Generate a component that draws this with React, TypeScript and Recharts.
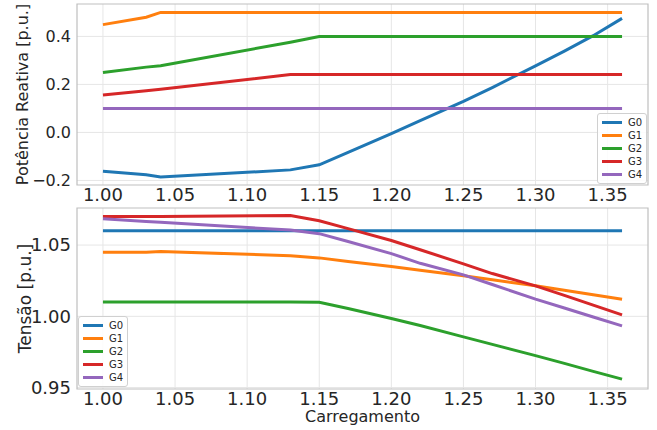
import { LineChart, Line, XAxis, YAxis, CartesianGrid, ReferenceArea, Legend, Label } from "recharts";

// ── Data ──────────────────────────────────────────────────────────────

const carregamento = [1.0, 1.03, 1.04, 1.13, 1.15, 1.17, 1.2, 1.22, 1.25, 1.27, 1.3, 1.32, 1.34, 1.36];

// Potência reativa [p.u.]
const qG0 = [-0.162, -0.176, -0.186, -0.156, -0.135, -0.083, -0.005, 0.049, 0.129, 0.187, 0.277, 0.339, 0.403, 0.475];
const qG1 = [0.449, 0.48, 0.5, 0.5, 0.5, 0.5, 0.5, 0.5, 0.5, 0.5, 0.5, 0.5, 0.5, 0.5];
const qG2 = [0.25, 0.272, 0.278, 0.376, 0.4, 0.4, 0.4, 0.4, 0.4, 0.4, 0.4, 0.4, 0.4, 0.4];
const qG3 = [0.156, 0.174, 0.18, 0.241, 0.241, 0.241, 0.241, 0.241, 0.241, 0.241, 0.241, 0.241, 0.241, 0.241];
const qG4 = [0.1, 0.1, 0.1, 0.1, 0.1, 0.1, 0.1, 0.1, 0.1, 0.1, 0.1, 0.1, 0.1, 0.1];

// Tensão [p.u.]
const vG0 = [1.06, 1.06, 1.06, 1.06, 1.06, 1.06, 1.06, 1.06, 1.06, 1.06, 1.06, 1.06, 1.06, 1.06];
const vG1 = [1.045, 1.045, 1.0455, 1.0425, 1.041, 1.0385, 1.0349, 1.0323, 1.0284, 1.0256, 1.0214, 1.0183, 1.0152, 1.012];
const vG2 = [1.01, 1.01, 1.01, 1.01, 1.0098, 1.0055, 0.9985, 0.9935, 0.9856, 0.9803, 0.9724, 0.967, 0.9614, 0.9559];
const vG3 = [1.07, 1.07, 1.07, 1.0707, 1.067, 1.0615, 1.0532, 1.0467, 1.0368, 1.03, 1.0214, 1.0147, 1.0078, 1.001];
const vG4 = [1.0684, 1.0666, 1.066, 1.0605, 1.058, 1.0525, 1.044, 1.0372, 1.0291, 1.0223, 1.0121, 1.0058, 0.9995, 0.9933];

const series = ["G0", "G1", "G2", "G3", "G4"];
const colors = ["#1f77b4", "#ff7f0e", "#2ca02c", "#d62728", "#9467bd"];

const xTicks = [1.0, 1.05, 1.1, 1.15, 1.2, 1.25, 1.3, 1.35];
const qTicks = [-0.2, 0.0, 0.2, 0.4];
const vTicks = [0.95, 1.0, 1.05];

const xDomain: [number, number] = [0.982, 1.378];
const qDomain: [number, number] = [-0.219, 0.535];
const vDomain: [number, number] = [0.949, 1.076];

const qRows = carregamento.map((x, i) => ({
  x, G0: qG0[i], G1: qG1[i], G2: qG2[i], G3: qG3[i], G4: qG4[i],
}));
const vRows = carregamento.map((x, i) => ({
  x, G0: vG0[i], G1: vG1[i], G2: vG2[i], G3: vG3[i], G4: vG4[i],
}));

// ── Helpers ───────────────────────────────────────────────────────────

const FONT = "'DejaVu Sans', sans-serif";
const GRID = "#e6e6e6";
const FRAME = "#bfbfbf";

const fmtY = (digits: number) => (v: number) => {
  const s = Math.abs(v).toFixed(digits);
  return v < 0 ? "\u2212" + s : s;
};

function MiniLegend() {
  return (
    <div style={{
      background: "rgba(255,255,255,0.85)",
      border: "1px solid #d0d0d0",
      borderRadius: 3,
      padding: "2px 4px 2px 4px",
      fontFamily: FONT,
      fontSize: 10,
      color: "#262626",
    }}>
      {series.map((s, i) => (
        <div key={s} style={{ display: "flex", alignItems: "center", height: 13 }}>
          <span style={{ display: "inline-block", width: 20, height: 3, background: colors[i], marginRight: 6 }} />
          {s}
        </div>
      ))}
    </div>
  );
}

function yTitle(text: string, size: number, x: number) {
  return (props: any) => {
    const vb = props.viewBox;
    const cy = vb.y + vb.height / 2;
    return (
      <text x={x} y={cy} transform={`rotate(-90, ${x}, ${cy})`} textAnchor="middle"
        style={{ fontFamily: FONT, fontSize: size, fill: "#262626" }}>
        {text}
      </text>
    );
  };
}

function xTitle(text: string, size: number, y: number) {
  return (props: any) => {
    const vb = props.viewBox;
    const cx = vb.x + vb.width / 2;
    return (
      <text x={cx} y={y} textAnchor="middle" style={{ fontFamily: FONT, fontSize: size, fill: "#262626" }}>
        {text}
      </text>
    );
  };
}

// ── Main ──────────────────────────────────────────────────────────────

export default function App() {
  return (
    <div style={{ position: "absolute", left: 0, top: 0, width: 657, height: 430, background: "#fff" }}>
      {/* ── Potência reativa ─────────────────────────────────── */}
      <div style={{ position: "absolute", left: 0, top: 0 }}>
        <LineChart width={657} height={210} data={qRows} margin={{ top: 4, right: 9, bottom: 0, left: 0 }}>
          <CartesianGrid stroke={GRID} strokeWidth={1} horizontalValues={qTicks} verticalValues={xTicks} />
          <XAxis dataKey="x" type="number" domain={xDomain} ticks={xTicks} allowDataOverflow
            tickFormatter={(v: number) => v.toFixed(2)} height={25} axisLine={false} tickLine={false}
            tickSize={2} tickMargin={1} tick={{ fontSize: 18, fill: "#262626", fontFamily: FONT }} />
          <YAxis type="number" domain={qDomain} ticks={qTicks} allowDataOverflow width={77}
            tickFormatter={fmtY(1)} axisLine={false} tickLine={false} tickSize={4} tickMargin={2}
            tick={{ fontSize: 16, fill: "#262626", fontFamily: FONT }}>
            <Label content={yTitle("Potência Reativa [p.u.]", 16, 28)} />
          </YAxis>
          <ReferenceArea x1={xDomain[0]} x2={xDomain[1]} y1={qDomain[0]} y2={qDomain[1]}
            fill="none" stroke={FRAME} strokeWidth={1.2} />
          {series.map((s, i) => (
            <Line key={s} dataKey={s} type="linear" stroke={colors[i]} strokeWidth={3}
              dot={false} activeDot={false} isAnimationActive={false} />
          ))}
          <Legend layout="vertical" align="center" verticalAlign="middle" content={() => <MiniLegend />}
            wrapperStyle={{ position: "absolute", left: 597, top: 113, width: "auto" }} />
        </LineChart>
      </div>

      {/* ── Tensão ──────────────────────────────────────────── */}
      <div style={{ position: "absolute", left: 0, top: 200 }}>
        <LineChart width={657} height={230} data={vRows} margin={{ top: 8, right: 9, bottom: 0, left: 0 }}>
          <CartesianGrid stroke={GRID} strokeWidth={1} horizontalValues={vTicks} verticalValues={xTicks} />
          <XAxis dataKey="x" type="number" domain={xDomain} ticks={xTicks} allowDataOverflow
            tickFormatter={(v: number) => v.toFixed(2)} height={41} axisLine={false} tickLine={false}
            tickSize={2} tickMargin={1} tick={{ fontSize: 18, fill: "#262626", fontFamily: FONT }}>
            <Label content={xTitle("Carregamento", 16, 222)} />
          </XAxis>
          <YAxis type="number" domain={vDomain} ticks={vTicks} allowDataOverflow width={77}
            tickFormatter={fmtY(2)} axisLine={false} tickLine={false} tickSize={4} tickMargin={2}
            tick={{ fontSize: 18, fill: "#262626", fontFamily: FONT }}>
            <Label content={yTitle("Tensão [p.u.]", 17, 31)} />
          </YAxis>
          <ReferenceArea x1={xDomain[0]} x2={xDomain[1]} y1={vDomain[0]} y2={vDomain[1]}
            fill="none" stroke={FRAME} strokeWidth={1.2} />
          {series.map((s, i) => (
            <Line key={s} dataKey={s} type="linear" stroke={colors[i]} strokeWidth={3}
              dot={false} activeDot={false} isAnimationActive={false} />
          ))}
          <Legend layout="vertical" align="center" verticalAlign="middle" content={() => <MiniLegend />}
            wrapperStyle={{ position: "absolute", left: 78, top: 116, width: "auto" }} />
        </LineChart>
      </div>
    </div>
  );
}
